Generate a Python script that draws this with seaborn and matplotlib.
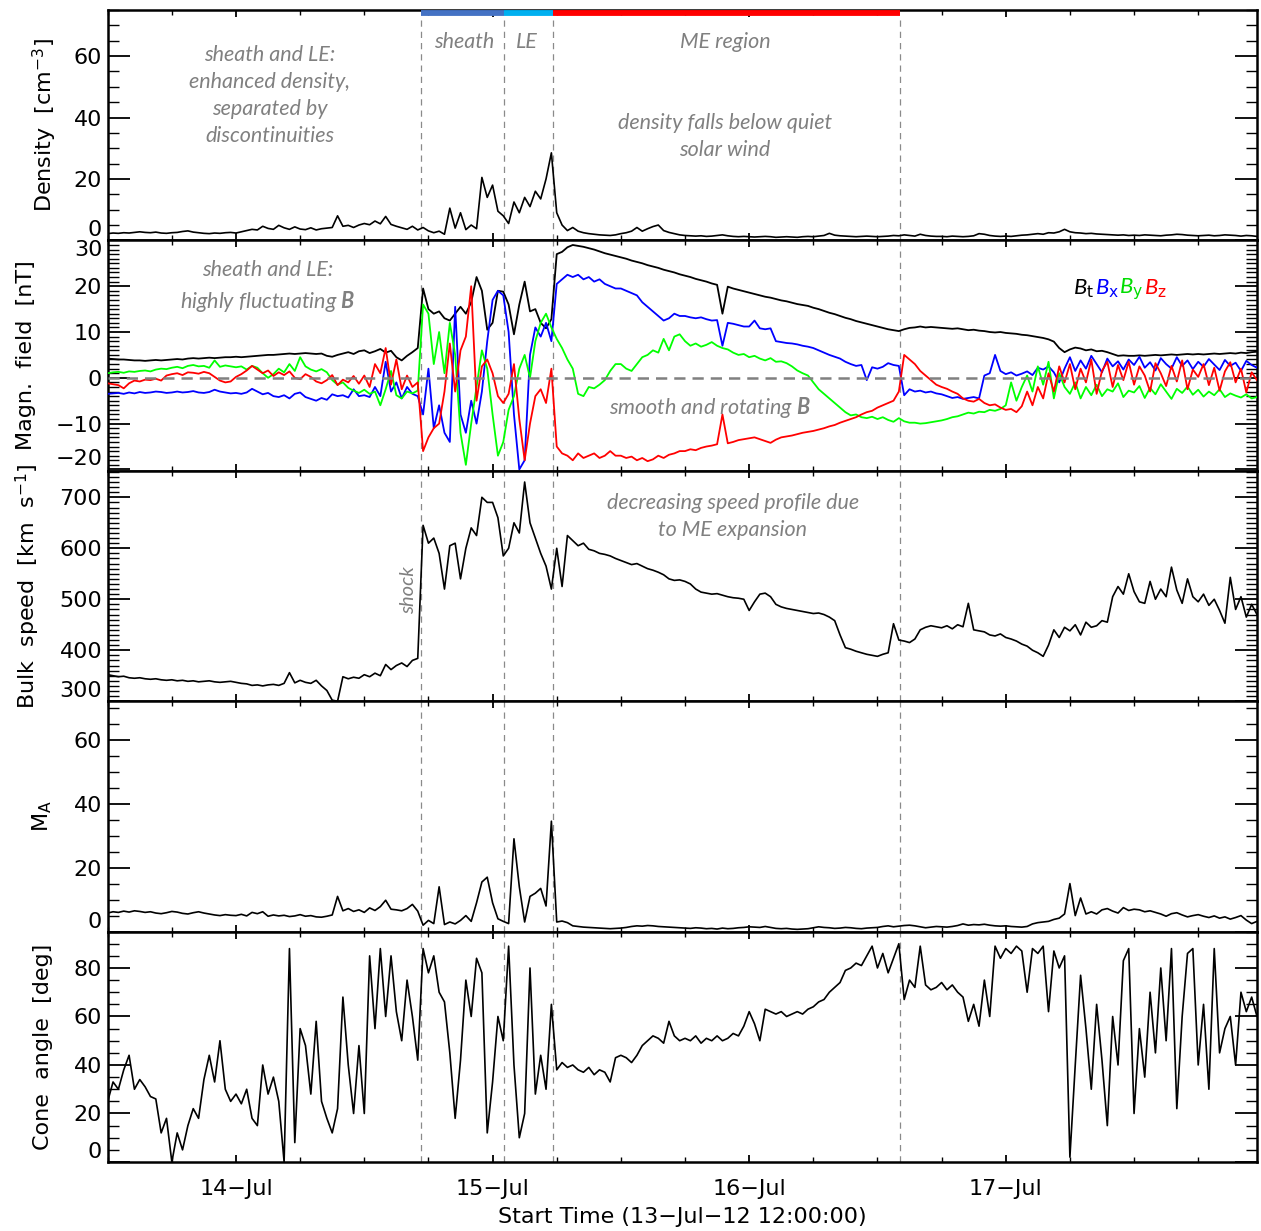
import numpy as np
import pandas as pd
import matplotlib
matplotlib.use("Agg")
import matplotlib.pyplot as plt
import seaborn as sns
from matplotlib.ticker import MultipleLocator, FixedLocator

# ---------------- data (30-min samples starting 13-Jul-12 12:00) ----------------
density = [
    2.2, 2.4, 2.3, 2.5, 2.4, 2.6, 2.8, 2.6, 2.5, 2.7, 2.4, 2.3,
    2.5, 2.6, 2.9, 3.1, 2.7, 2.5, 2.3, 2.2, 2.4, 2.3, 2.5, 2.6,
    2.4, 2.8, 3.2, 3.6, 3.4, 4.6, 3.9, 3.6, 4.9, 4.1, 3.6, 4.4,
    3.7, 3.5, 4.1, 3.4, 3.8, 4.0, 4.2, 8.0, 4.6, 4.9, 4.2, 5.0,
    5.5, 5.1, 6.3, 5.4, 7.8, 5.2, 4.6, 4.1, 3.6, 4.6, 3.4, 4.2,
    3.1, 2.5, 3.0, 2.0, 10.5, 4.0, 9.0, 3.5, 5.0, 3.8, 20.5, 14.0,
    18.0, 9.5, 8.0, 5.5, 12.5, 9.0, 14.0, 11.0, 16.0, 13.5, 20.0, 28.5,
    9.0, 5.0, 3.2, 4.2, 3.0, 2.5, 2.2, 2.0, 1.8, 1.7, 1.6, 1.8,
    2.2, 2.5, 3.0, 4.2, 3.0, 3.8, 4.5, 5.0, 3.2, 2.6, 2.2, 1.8,
    1.6, 1.5, 1.4, 1.5, 1.3, 1.4, 1.6, 1.8, 1.5, 1.3, 1.2, 1.3,
    1.2, 1.1, 1.2, 1.3, 1.2, 1.0, 1.1, 1.2, 1.1, 1.0, 1.2, 1.3,
    1.2, 1.4, 1.6, 2.3, 1.7, 1.5, 1.4, 1.3, 1.2, 1.3, 1.4, 1.3,
    1.2, 1.3, 1.4, 1.6, 1.5, 1.8, 1.6, 1.4, 2.0, 1.6, 1.4, 1.3,
    1.3, 1.2, 1.4, 1.3, 1.2, 1.3, 1.5, 2.2, 2.0, 1.6, 1.4, 1.3,
    1.4, 1.3, 1.5, 1.7, 1.8, 2.0, 2.2, 2.0, 2.5, 2.4, 2.8, 3.6,
    2.8, 2.5, 2.4, 2.2, 2.3, 2.1, 2.0, 1.9, 1.8, 1.7, 1.8, 1.6,
    1.7, 1.6, 1.8, 1.7, 1.6, 1.5, 1.7, 1.8, 2.0, 1.9, 1.7, 1.6,
    1.5, 1.6, 1.7, 1.5, 1.6, 1.8, 1.7, 1.6, 1.4, 1.6, 1.5, 1.3,
]

b_total = [
    4.2, 4.1, 4.0, 4.0, 3.9, 3.8, 3.8, 3.7, 3.8, 3.9, 3.8, 3.9,
    4.0, 4.1, 4.0, 4.2, 4.3, 4.2, 4.3, 4.4, 4.3, 4.4, 4.5, 4.5,
    4.6, 4.5, 4.6, 4.7, 4.8, 4.9, 5.0, 5.0, 5.1, 5.2, 5.3, 5.2,
    5.3, 5.4, 5.3, 5.2, 5.3, 4.8, 4.6, 5.0, 5.3, 5.6, 5.2, 5.8,
    6.0, 5.4, 5.8, 6.3, 5.5, 5.9, 4.5, 3.8, 4.8, 5.6, 6.5, 19.5,
    15.0, 14.0, 14.5, 13.0, 12.5, 14.0, 15.5, 14.0, 16.5, 22.0, 19.0, 10.5,
    12.0, 19.0, 18.8, 16.0, 9.5, 16.0, 21.0, 14.5, 15.0, 12.0, 10.8, 12.8,
    27.0, 27.5, 28.5, 29.0, 28.8, 28.6, 28.3, 28.0, 27.6, 27.2, 26.9, 26.6,
    26.3, 26.0, 25.6, 25.3, 25.0, 24.6, 24.3, 24.0, 23.6, 23.3, 23.0, 22.6,
    22.3, 22.0, 21.6, 21.3, 21.0, 20.6, 20.3, 14.0, 19.9, 19.5, 19.2, 18.9,
    18.6, 18.3, 18.0, 17.7, 17.5, 17.2, 16.9, 16.7, 16.4, 16.1, 15.9, 15.7,
    15.3, 15.0, 14.6, 14.2, 13.9, 13.5, 13.1, 12.8, 12.4, 12.1, 11.8, 11.5,
    11.2, 10.9, 10.6, 10.4, 10.2, 10.6, 10.9, 11.0, 11.2, 11.0, 11.1, 11.0,
    10.9, 10.8, 10.7, 10.8, 10.6, 10.4, 10.5, 10.3, 10.2, 10.0, 9.9, 10.0,
    9.8, 9.7, 9.6, 9.4, 9.3, 9.1, 8.9, 8.7, 8.4, 7.9, 6.5, 5.6,
    6.2, 6.6, 6.4, 6.0, 6.2, 5.8, 5.9, 5.6, 5.2, 4.8, 4.9, 4.8,
    4.8, 4.9, 4.8, 4.9, 5.0, 4.9, 5.0, 5.1, 5.0, 5.1, 5.2, 5.1,
    5.2, 5.1, 5.2, 5.3, 5.2, 5.3, 5.4, 5.3, 5.5, 5.4, 5.6, 5.7,
]

b_x = [
    -3.5, -3.4, -3.3, -3.5, -3.2, -3.4, -3.1, -3.3, -3.2, -3.0, -3.1, -3.3,
    -3.2, -3.0, -3.2, -3.1, -2.9, -3.2, -3.3, -3.1, -2.6, -3.0, -3.2, -3.4,
    -3.3, -3.5, -3.2, -2.4, -3.0, -3.6, -3.3, -4.0, -4.2, -3.8, -4.5, -3.5,
    -3.2, -4.2, -4.6, -5.0, -4.4, -4.8, -3.6, -4.0, -3.8, -4.3, -2.5, -4.0,
    -3.8, -4.2, -2.0, -4.0, 3.5, -3.0, -1.0, -4.5, -2.0, -3.5, -4.0, -8.0,
    2.0, -11.0, -6.0, -12.0, -14.0, 15.5, -8.0, -12.0, -5.0, -10.0, -3.0, 8.0,
    17.0, 19.0, 18.0, 10.0, -8.0, -20.0, -18.0, 5.0, 11.0, 9.0, 12.0, 8.0,
    20.5, 21.5, 22.5, 22.0, 22.5, 21.5, 22.0, 21.0, 21.5, 20.5, 20.0, 19.5,
    19.5, 19.0, 18.5, 18.0, 16.5, 15.5, 14.5, 13.5, 12.5, 13.0, 14.0, 13.5,
    13.5, 13.2, 13.0, 13.2, 12.8, 12.5, 12.6, 7.0, 12.0, 11.8, 11.5, 11.2,
    11.2, 12.5, 10.8, 10.6, 10.8, 8.0, 7.8, 7.6, 7.5, 7.3, 7.0, 6.8,
    6.5, 6.0, 5.5, 5.0, 4.6, 4.2, 3.5, 3.0, 2.6, 2.8, -0.5, 2.3,
    2.0, 2.4, 3.2, 2.8, 2.6, -3.8, -2.5, -3.0, -2.8, -3.2, -3.0, -3.4,
    -3.6, -4.0, -4.4, -4.2, -4.6, -4.4, -4.2, -4.5, 0.5, 1.0, 5.0, 1.5,
    0.8, 1.2, 0.5, 0.9, 1.4, 0.6, 2.2, 1.8, 2.5, 1.2, -1.0, 2.0,
    4.5, 1.5, 3.8, 2.0, 4.8, 3.0, 1.2, 4.2, 2.5, 3.6, 1.8, 4.0,
    2.8, 4.6, 2.2, 3.4, 1.6, 4.3, 3.0, 2.0, 4.5, 2.6, 3.8, 1.9,
    3.5, 2.4, 4.1, 2.9, 1.7, 3.9, 2.6, 3.3, 1.5, 3.7, 2.8, 2.2,
]

b_y = [
    1.0, 1.2, 1.3, 1.1, 1.4, 1.3, 1.5, 1.6, 1.4, 1.8, 2.0, 1.9,
    2.2, 2.4, 2.1, 2.6, 2.8, 2.5, 2.6, 2.2, 3.8, 2.4, 2.7, 2.5,
    2.3, 2.5, 1.8, 2.6, 2.2, 1.0, 0.0, 0.8, 2.0, 1.2, 3.0, 1.5,
    4.5, 2.5, 1.8, 1.4, 1.9, 1.2, -0.5, -1.5, -1.0, -2.2, -2.8, -3.3,
    -2.6, -3.5, -3.0, -6.0, -2.5, 1.5, -3.8, -4.5, -3.0, -3.4, -2.8, 16.0,
    14.0, 3.0, 10.0, 1.0, 12.0, 5.0, -12.0, -19.0, -10.0, -2.0, 6.0, 2.0,
    -8.0, -17.0, -14.0, -7.0, -4.0, 2.0, 5.0, 0.0, 8.0, 12.0, 14.0, 11.0,
    8.5, 6.5, 4.0, 2.0, -3.5, -4.0, -2.0, -2.3, -1.5, -0.5, 1.5, 3.0,
    3.0, 2.0, 1.5, 3.0, 4.5, 5.0, 6.0, 5.5, 8.5, 6.0, 9.0, 9.5,
    8.0, 7.0, 7.5, 6.8, 7.2, 7.8, 7.0, 6.5, 6.2, 5.5, 5.0, 5.2,
    4.5, 4.8, 4.2, 3.8, 4.3, 3.5, 3.6, 3.2, 2.5, 1.6, 1.0, 0.5,
    -1.0, -2.5, -3.5, -4.5, -5.5, -6.5, -7.5, -8.2, -8.0, -8.6, -8.8, -8.5,
    -9.0, -8.6, -9.2, -9.6, -8.8, -9.5, -9.8, -9.8, -10.0, -9.9, -9.7, -9.5,
    -9.3, -9.0, -8.6, -8.4, -8.0, -7.6, -7.8, -7.4, -7.5, -7.0, -7.2, -6.8,
    -6.0, -1.0, -5.0, -2.0, 0.5, -3.0, 2.5, -1.5, 3.5, -4.5, 1.0, -2.0,
    -3.5, -1.0, -4.5, -2.0, -3.8, -1.5, -4.0, -2.5, -3.0, -1.2, -4.2, -2.8,
    -3.2, -1.8, -4.4, -2.2, -3.6, -1.4, -3.0, -4.6, -2.4, -3.3, -1.9, -3.7,
    -2.6, -4.1, -3.0, -3.8, -2.5, -4.2, -3.4, -3.9, -4.3, -3.6, -4.5, -4.2,
]

b_z = [
    -1.2, -1.4, -1.6, -2.3, -1.2, -0.6, -0.8, -0.4, -0.5, -0.2, -0.6, 0.5,
    0.8, 1.0, 0.6, 1.2, 1.1, 0.9, 1.3, 1.0, 0.2, -0.6, -1.0, -0.8,
    0.2, 0.8, 1.6, 2.6, 1.8, 1.0, 1.6, 0.4, 1.2, 0.6, 1.4, 0.0,
    -0.3, 0.8, 0.2, -0.8, -1.2, -0.5, 0.6, -1.6, -0.4, -1.0, 0.4, -1.3,
    0.5, -2.0, 3.0, 1.0, 6.5, -1.5, 4.0, -2.5, 0.5, -2.0, -1.0, -16.0,
    -13.0, -11.0, -10.0, -3.0, 7.5, -3.0, 6.0, 9.0, 20.0, -5.0, 2.5, 4.0,
    1.0, -4.0, -5.5, -3.5, 3.0, -9.0, -18.0, -10.0, -4.0, -2.5, -5.5, 2.0,
    -15.0, -16.5, -17.0, -18.0, -16.5, -17.5, -17.0, -16.5, -17.5, -17.0, -16.0, -17.0,
    -17.0, -17.5, -17.2, -18.0, -17.5, -18.2, -17.8, -17.0, -17.5, -16.8, -16.5, -16.0,
    -16.0, -15.6, -15.8, -15.3, -15.0, -14.8, -14.5, -8.0, -14.3, -14.0, -13.6, -13.4,
    -13.2, -13.0, -13.4, -13.8, -14.2, -13.5, -13.0, -12.8, -12.6, -12.3, -12.0, -11.8,
    -11.6, -11.3, -11.0, -10.6, -10.3, -9.8, -9.4, -9.0, -8.6, -8.0, -7.5, -7.2,
    -6.5, -6.0, -5.5, -5.0, -3.0, 5.0, 4.0, 3.0, 1.5, 0.5, -0.5, -1.5,
    -2.0, -2.4, -3.0, -3.5, -4.5, -5.0, -5.2, -4.6, -5.5, -6.0, -5.8, -6.5,
    -7.0, -6.8, -7.5, -6.2, -3.0, -6.0, -2.0, -4.5, 1.0, -3.0, 2.5, -1.0,
    3.0, -2.5, 2.0, -1.0, 4.0, -3.5, 1.5, 3.5, -2.0, 2.8, -0.5, 3.5,
    -1.5, 2.5, 0.5, -3.0, 3.2, 1.0, -1.8, 2.6, -0.8, 3.8, -2.5, 1.8,
    0.2, 3.0, -1.6, 2.2, -2.8, 1.4, 3.4, -1.0, 2.0, -3.2, 1.2, -0.5,
]

speed = [
    352, 350, 348, 349, 346, 345, 346, 344, 343, 344, 342, 341,
    342, 340, 341, 339, 340, 338, 339, 340, 338, 337, 338, 339,
    337, 335, 334, 331, 332, 330, 332, 333, 331, 335, 356, 336,
    341, 337, 335, 341, 330, 321, 302, 300, 348, 344, 347, 345,
    352, 348, 355, 350, 372, 362, 370, 375, 368, 380, 384, 645,
    610, 620, 590, 520, 605, 610, 540, 600, 640, 625, 700, 690,
    690, 660, 585, 600, 650, 630, 730, 650, 620, 590, 565, 520,
    600, 525, 625, 615, 605, 610, 598, 595, 590, 588, 585, 580,
    576, 572, 568, 570, 565, 560, 557, 553, 548, 540, 537, 538,
    535, 530, 520, 514, 512, 510, 511, 508, 505, 503, 502, 500,
    478, 495, 510, 512, 505, 490, 485, 482, 480, 478, 476, 474,
    472, 473, 470, 465, 458, 430, 405, 402, 398, 395, 392, 390,
    388, 392, 395, 452, 420, 418, 415, 422, 440, 445, 448, 446,
    444, 448, 442, 450, 446, 492, 440, 438, 436, 430, 428, 432,
    425, 422, 418, 412, 408, 400, 395, 388, 410, 440, 425, 445,
    438, 450, 430, 455, 445, 448, 458, 455, 505, 525, 510, 550,
    515, 495, 492, 535, 500, 520, 505, 563, 518, 492, 540, 505,
    495, 510, 488, 500, 478, 453, 543, 480, 505, 465, 490, 470,
]

mach_alfven = [
    5.8, 6.2, 6.0, 6.4, 6.1, 6.5, 6.3, 6.0, 6.2, 5.8, 5.6, 5.9,
    6.3, 6.1, 5.7, 5.5, 5.9, 6.2, 5.8, 5.5, 5.2, 5.0, 5.3, 5.1,
    5.0, 5.4, 4.9, 6.0, 5.6, 6.2, 4.8, 5.2, 4.9, 5.1, 4.7, 4.9,
    5.3, 4.8, 5.0, 4.6, 4.5, 4.8, 5.2, 11.0, 6.5, 7.2, 6.3, 6.8,
    6.0, 7.4, 6.6, 7.8, 9.8, 7.0, 6.8, 6.5, 7.2, 8.5, 6.4, 2.0,
    3.5, 2.5, 14.0, 2.2, 3.0, 2.4, 3.5, 5.0, 3.2, 9.0, 15.5, 17.0,
    9.0, 4.0, 3.2, 2.5, 29.0, 14.0, 3.0, 11.0, 12.0, 13.5, 8.0, 34.5,
    3.0, 3.3, 2.8, 1.8, 1.6, 1.4, 1.3, 1.2, 1.1, 1.0, 0.9, 1.0,
    1.1, 1.3, 1.6, 1.8, 1.7, 1.9, 1.8, 1.6, 1.5, 1.4, 1.3, 1.2,
    1.1, 1.0, 1.2, 1.1, 0.9, 1.0, 0.8, 1.1, 0.9, 1.0, 1.2, 1.3,
    1.5, 1.4, 1.3, 1.6, 1.3, 1.0, 0.9, 1.0, 0.8, 0.7, 0.8, 0.9,
    1.2, 1.5, 1.3, 1.2, 1.0, 1.1, 1.3, 1.2, 1.0, 0.9, 1.1, 1.2,
    1.3, 1.6, 1.8, 1.5, 1.7, 1.9, 2.0, 1.8, 1.5, 1.2, 1.4, 1.6,
    1.5, 1.4, 1.6, 1.9, 2.4, 2.0, 2.2, 2.1, 2.3, 2.0, 1.8, 1.7,
    1.8, 1.6, 1.5, 1.4, 1.6, 2.4, 2.8, 3.0, 3.2, 3.8, 4.2, 5.5,
    15.0, 5.0, 10.5, 5.5, 6.2, 5.5, 6.8, 7.2, 6.4, 5.8, 7.5, 6.6,
    7.0, 6.8, 6.2, 6.5, 6.0, 5.5, 4.8, 5.6, 5.9, 5.2, 4.6, 5.0,
    5.3, 4.8, 4.4, 4.9, 4.2, 4.6, 3.9, 4.4, 5.0, 3.6, 2.5, 3.2,
]

cone_angle = [
    25, 33, 30, 38, 44, 30, 34, 31, 27, 26, 12, 18,
    0, 12, 5, 15, 22, 18, 34, 44, 33, 50, 30, 25,
    28, 24, 30, 18, 15, 40, 28, 35, 25, 0, 88, 8,
    55, 48, 28, 58, 25, 18, 12, 22, 68, 40, 20, 48,
    20, 85, 55, 88, 60, 85, 62, 50, 75, 60, 42, 88,
    78, 85, 70, 66, 45, 18, 42, 75, 60, 84, 78, 12,
    33, 60, 50, 89, 40, 10, 20, 80, 28, 44, 30, 65,
    38, 41, 39, 40, 38, 37, 39, 36, 38, 37, 33, 43,
    44, 43, 41, 44, 48, 50, 52, 51, 49, 58, 52, 50,
    51, 50, 52, 49, 51, 50, 52, 50, 51, 53, 52, 56,
    62, 57, 50, 63, 62, 61, 62, 60, 61, 62, 61, 63,
    64, 66, 67, 70, 72, 74, 79, 80, 82, 81, 85, 89,
    80, 86, 78, 84, 90, 67, 75, 72, 89, 73, 71, 72,
    74, 71, 73, 70, 68, 58, 65, 56, 75, 60, 89, 84,
    88, 86, 89, 87, 70, 88, 86, 89, 62, 87, 80, 85,
    2, 40, 77, 55, 30, 65, 42, 15, 60, 40, 83, 88,
    20, 55, 35, 70, 45, 80, 50, 88, 22, 60, 86, 88,
    40, 65, 30, 88, 45, 55, 60, 40, 70, 62, 68, 60,
]

# hours since 13-Jul-12 12:00
hours = np.arange(len(density)) * 0.5

# event boundaries (hours since start)
boundaries = [29.3, 37.05, 41.63, 74.07]
region_bars = [(29.3, 37.05, "#4472C4"), (37.05, 41.63, "#00B0F0"), (41.63, 74.07, "#FF0000")]

day_ticks = [12, 36, 60, 84]
day_labels = ["14\u2212Jul", "15\u2212Jul", "16\u2212Jul", "17\u2212Jul"]

# ---------------- style ----------------
sns.set_theme(style="ticks", rc={
    "axes.edgecolor": "black", "text.color": "black", "axes.labelcolor": "black",
    "xtick.color": "black", "ytick.color": "black",
})
plt.rcParams["font.family"] = ["DejaVu Sans"]
plt.rcParams["mathtext.fontset"] = "custom"
plt.rcParams["mathtext.rm"] = "DejaVu Sans"
plt.rcParams["mathtext.it"] = "Lato:italic"
plt.rcParams["mathtext.bf"] = "Lato:italic:bold"

W, H = 1261, 1231
fig = plt.figure(figsize=(W / 100, H / 100), dpi=100)

LEFT, RIGHT = 107.7, 1257.0
TOP, BOTTOM = 10.0, 1162.0
ph = (BOTTOM - TOP) / 5
XMAX = 107.5

df = pd.DataFrame({"hours": hours, "density": density, "Bt": b_total, "Bx": b_x,
                   "By": b_y, "Bz": b_z, "speed": speed, "MA": mach_alfven,
                   "cone": cone_angle})
bdf = df.melt(id_vars="hours", value_vars=["Bt", "Bx", "By", "Bz"],
              var_name="component", value_name="B")

panels = [
    dict(key="density", label="Density  [cm$^{-3}$]", ylim=(0, 75), ticks=[0, 20, 40, 60], minor=5, lx=45),
    dict(key="B", label="Magn.  field  [nT]", ylim=(-20.3, 30), ticks=[-20, -10, 0, 10, 20, 30], minor=1, lx=26),
    dict(key="speed", label="Bulk  speed  [km  s$^{-1}$]", ylim=(300, 752), ticks=[300, 400, 500, 600, 700], minor=10, lx=28),
    dict(key="MA", label="M$_\\mathrm{A}$", ylim=(0, 72), ticks=[0, 20, 40, 60], minor=5, lx=42),
    dict(key="cone", label="Cone  angle  [deg]", ylim=(0, 95), ticks=[0, 20, 40, 60, 80], minor=5, lx=43),
]

axes = []
for i, p in enumerate(panels):
    top = TOP + i * ph
    ax = fig.add_axes([LEFT / W, 1 - (top + ph) / H, (RIGHT - LEFT) / W, ph / H])
    axes.append(ax)
    if p["key"] == "B":
        sns.lineplot(data=bdf, x="hours", y="B", hue="component",
                     hue_order=["Bt", "Bx", "By", "Bz"],
                     palette=["black", "#0000FF", "#00FF00", "#FF0000"],
                     linewidth=1.3, legend=False, ax=ax, zorder=3)
        ax.axhline(0, color="#808080", lw=1.8, ls=(0, (4.5, 2.8)), zorder=4)
    else:
        sns.lineplot(data=df, x="hours", y=p["key"], color="black", linewidth=1.2,
                     ax=ax, zorder=3)
    for xb in boundaries:
        ymax = 0.975 if i == 0 else 1.0
        ax.axvline(xb, ymin=0, ymax=ymax, color="#8a8a8a", lw=0.9, ls=(0, (5, 4)), zorder=1)
    ax.set_xlim(0, XMAX)
    ax.set_ylim(*p["ylim"])
    ax.yaxis.set_major_locator(FixedLocator(p["ticks"]))
    ax.yaxis.set_minor_locator(MultipleLocator(p["minor"]))
    ax.xaxis.set_major_locator(FixedLocator(day_ticks))
    ax.xaxis.set_minor_locator(MultipleLocator(6))
    ax.tick_params(axis="y", which="major", direction="in", left=True, right=True,
                   length=16, width=1.3, labelsize=16, pad=4)
    ax.tick_params(axis="y", which="minor", direction="in", left=True, right=True,
                   length=8, width=1.0)
    ax.tick_params(axis="x", which="major", direction="in", top=True, bottom=True,
                   length=5, width=1.3, labelsize=16, pad=12)
    ax.tick_params(axis="x", which="minor", direction="in", top=True, bottom=True,
                   length=3.5, width=1.0)
    for s in ax.spines.values():
        s.set_linewidth(1.8)
    ax.set_ylabel(p["label"], fontsize=16, va="center")
    ax.yaxis.set_label_coords((p["lx"] - LEFT) / (RIGHT - LEFT), 0.5)
    if i < 4:
        ax.set_xlabel("")
        ax.tick_params(axis="x", labelbottom=False)
    else:
        ax.set_xticks(day_ticks)
        ax.set_xticklabels(day_labels)
        ax.set_xlabel("Start Time (13\u2212Jul\u221212 12:00:00)", fontsize=16, labelpad=6)

# region bars on top of density panel
ax0 = axes[0]
for x1, x2, c in region_bars:
    ax0.plot([x1, x2], [0.987, 0.987], color=c, lw=4.2, solid_capstyle="butt",
             transform=ax0.get_xaxis_transform(), zorder=5, clip_on=False)

# ---------------- annotations ----------------
grey = "#808080"
ann = dict(color=grey, family="Lato", style="italic", fontsize=15.5, ha="center", va="center")


def ftext(x, y, s, **kw):
    opts = dict(ann)
    opts.update(kw)
    return fig.text(x / W, 1 - y / H, s, **opts)


ftext(270, 95.5, "sheath and LE:\nenhanced density,\nseparated by\ndiscontinuities", linespacing=1.45)
ftext(464, 42, "sheath")
ftext(527, 42, "LE")
ftext(725, 42, "ME region")
ftext(725, 136.5, "density falls below quiet\nsolar wind", linespacing=1.45)
ftext(268, 287, "sheath and LE:\nhighly fluctuating $\\mathbf{B}$", linespacing=1.45)
ftext(710, 407, "smooth and rotating $\\mathbf{B}$")
ftext(733, 516.5, "decreasing speed profile due\nto ME expansion", linespacing=1.45)
ftext(409, 590, "shock", rotation=90, fontsize=14.5)

leg = [("$B_\\mathrm{t}$", "black", 1084), ("$B_\\mathrm{x}$", "#0000FF", 1107),
       ("$B_\\mathrm{y}$", "#00DD00", 1131), ("$B_\\mathrm{z}$", "#FF0000", 1155)]
for s, c, x in leg:
    fig.text(x / W, 1 - 289 / H, s, color=c, fontsize=16, ha="center", va="center")

# shift end tick labels inward like the original
fig.canvas.draw()
for ax, p in zip(axes, panels):
    lo, hi = p["ticks"][0], p["ticks"][-1]
    for tick in ax.yaxis.get_major_ticks():
        loc = tick.get_loc()
        if abs(loc - p["ylim"][0]) < 0.5:
            tick.label1.set_va("bottom")
        elif abs(loc - p["ylim"][1]) < 0.5:
            tick.label1.set_va("top")

fig.savefig("out.png", dpi=100)
